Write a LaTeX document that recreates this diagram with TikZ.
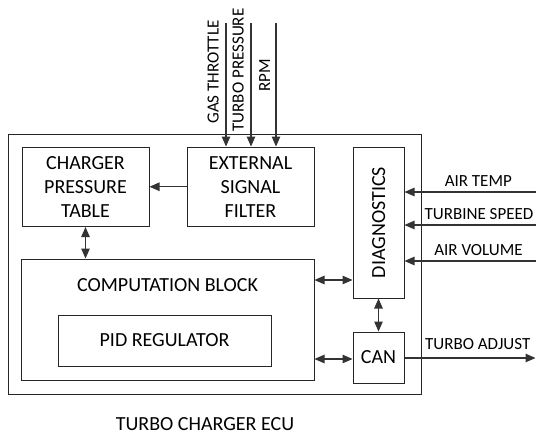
\documentclass[tikz,border=0pt]{standalone}
\usepackage{fontspec}
\setmainfont{Carlito}
\usetikzlibrary{arrows.meta}
\begin{document}
\begin{tikzpicture}[x=1pt,y=-1pt,
  box/.style={draw=black!85,line width=1pt,inner sep=0pt,align=center,
    font=\fontsize{20}{24}\selectfont},
  lbl/.style={font=\fontsize{17}{20}\selectfont,inner sep=0pt},
  conn/.style={draw=black!80,line width=1.1pt},
  >={Triangle[length=10pt,width=8.5pt]}]
\useasboundingbox (0,0) rectangle (536,434);
% boxes
\node[box,minimum width=413pt,minimum height=260pt] (ecu) at (214.5,264) {};
\node[box,minimum width=127pt,minimum height=79.5pt] (charger) at (85.5,186.75) {CHARGER\\PRESSURE\\TABLE};
\node[box,minimum width=127pt,minimum height=79.5pt] (ext) at (250.5,186.75) {EXTERNAL\\SIGNAL\\FILTER};
\node[box,minimum width=293pt,minimum height=121.5pt] (comp) at (167.5,319.75) {};
\node[box,draw=none,anchor=base] (comptext) at (167.5,291) {COMPUTATION BLOCK};
\node[box,minimum width=213pt,minimum height=51pt] (pid) at (164.5,340.5) {PID REGULATOR};
\node[box,minimum width=51pt,minimum height=151pt] (diag) at (378.5,222.5) {};
\node[box,draw=none,anchor=base,rotate=90] (diagtext) at (385,222.5) {DIAGNOSTICS};
\node[box,minimum width=51pt,minimum height=51pt] (can) at (378.5,357.5) {CAN};
\node[box,draw=none,anchor=base,text depth=0pt] (title) at (205,430.5) {TURBO CHARGER ECU};
% top inputs
\coordinate (gt) at (226,23);
\coordinate (tp) at (251,23);
\coordinate (rpm) at (276,23);
\draw[conn,->] (gt) -- (gt |- ext.north);
\draw[conn,->] (tp) -- (tp |- ext.north);
\draw[conn,->] (rpm) -- (rpm |- ext.north);
\node[lbl,anchor=base,rotate=90] (gtl) at (218.5,72) {GAS THROTTLE};
\node[lbl,anchor=base,rotate=90] (tpl) at (243.5,70) {TURBO PRESSURE};
\node[lbl,anchor=base,rotate=90] (rpml) at (270,75) {RPM};
% right inputs
\coordinate (at) at (536,192);
\coordinate (ts) at (536,225);
\coordinate (av) at (536,261);
\coordinate (ta) at (535.5,358);
\draw[conn,->] (at) -- (at -| diag.east);
\draw[conn,->] (ts) -- (ts -| diag.east);
\draw[conn,->] (av) -- (av -| diag.east);
\draw[conn,->] (can.east |- ta) -- (ta);
\node[lbl,anchor=base] (atl) at (478.3,186) {AIR TEMP};
\node[lbl,anchor=base] (tsl) at (479,219.3) {TURBINE SPEED};
\node[lbl,anchor=base] (avl) at (478.5,255) {AIR VOLUME};
\node[lbl,anchor=base] (tal) at (477.7,349) {TURBO ADJUST};
% internal connectors
\draw[conn,->] (ext.west) -- (charger.east);
\draw[conn,<->] (charger.south) -- (charger.south |- comp.north);
\draw[conn,<->] (comp.east |- 0,280) -- (diag.west |- 0,280);
\draw[conn,<->] (comp.east |- 0,359) -- (can.west |- 0,359);
\draw[conn,<->] (diag.south) -- (can.north);
\end{tikzpicture}
\end{document}
